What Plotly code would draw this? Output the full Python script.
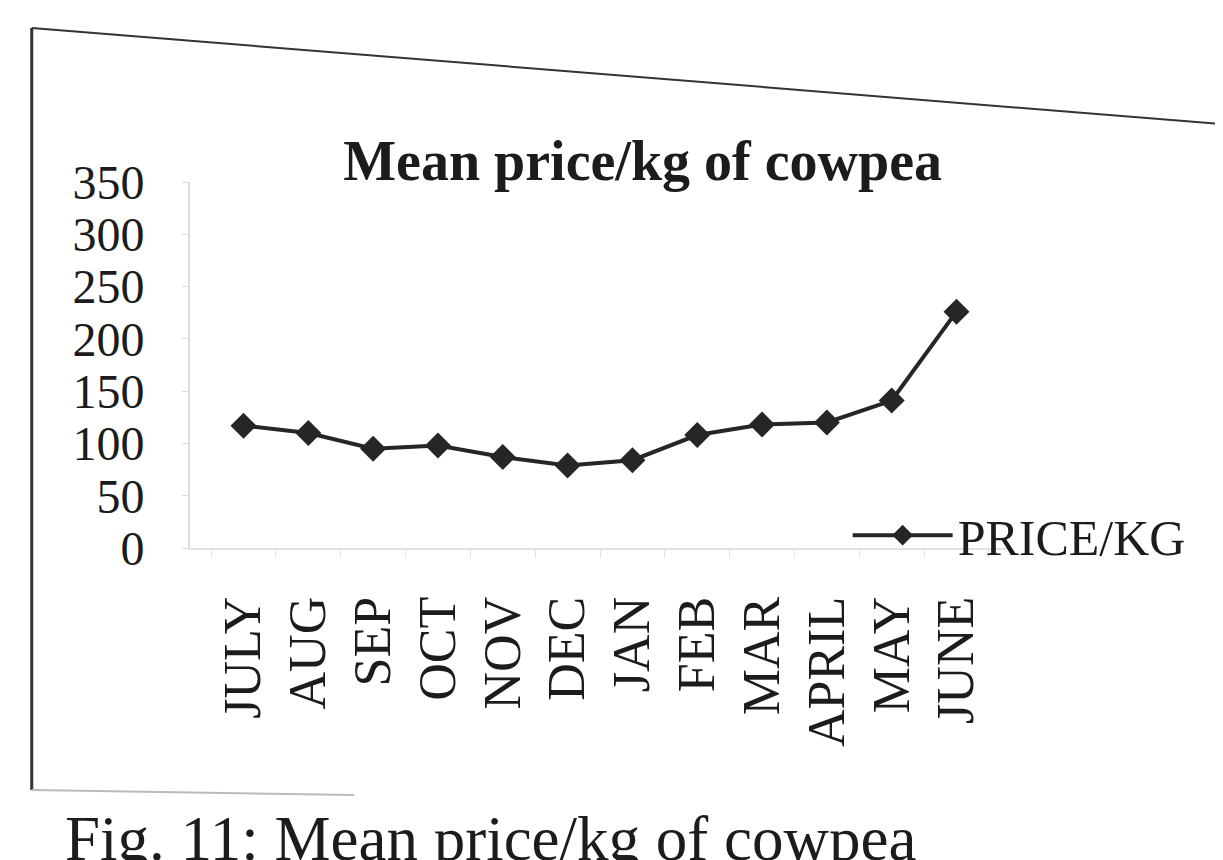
import plotly.graph_objects as go

months = ["JULY", "AUG", "SEP", "OCT", "NOV", "DEC", "JAN", "FEB", "MAR", "APRIL", "MAY", "JUNE"]
price_per_kg = [117, 110, 95, 98, 87, 79, 84, 108, 118, 120, 141, 226]
y_ticks = [0, 50, 100, 150, 200, 250, 300, 350]

SERIF = "Liberation Serif, Times New Roman, serif"
INK = "#1c1c1c"

fig = go.Figure()
fig.add_trace(go.Scatter(
    x=months, y=price_per_kg, name="PRICE/KG", mode="lines+markers",
    line=dict(color="#262626", width=4),
    marker=dict(symbol="diamond", size=20, color="#262626"),
))

# frame of the scanned page
fig.add_shape(type="line", xref="paper", yref="paper", x0=-0.193, y0=1.421, x1=1.27, y1=1.156,
              line=dict(color="#333", width=2))
fig.add_shape(type="line", xref="paper", yref="paper", x0=-0.193, y0=1.421, x1=-0.193, y1=-0.661,
              line=dict(color="#333", width=3))
fig.add_shape(type="line", xref="paper", yref="paper", x0=-0.193, y0=-0.661, x1=0.2, y1=-0.675,
              line=dict(color="#bbb", width=2))

fig.add_annotation(text="Fig. 11: Mean price/kg of cowpea", xref="paper", yref="paper",
                   x=-0.155, y=-0.694, xanchor="left", yanchor="top", showarrow=False,
                   font=dict(family=SERIF, size=63, color=INK))

fig.update_layout(
    width=1223, height=860,
    margin=dict(l=182, r=221, t=174, b=320),
    paper_bgcolor="white", plot_bgcolor="white",
    title=dict(text="<b>Mean price/kg of cowpea</b>", x=0.552, xref="paper", xanchor="center",
               y=1 - 152 / 860, yref="container", yanchor="middle",
               font=dict(family=SERIF, size=56, color=INK)),
    font=dict(family=SERIF, color=INK),
    showlegend=True,
    legend=dict(x=0.802, y=0.035, xanchor="left", yanchor="middle", bgcolor="rgba(0,0,0,0)",
                itemwidth=100,
                font=dict(family=SERIF, size=50, color=INK)),
    xaxis=dict(type="category", categoryorder="array", categoryarray=months,
               tickangle=-90, showgrid=False, showline=True, linecolor="#e2e2e2", linewidth=2,
               ticks="outside", tickson="boundaries", ticklen=8, tickcolor="#e2e2e2",
               ticklabelstandoff=26, tickfont=dict(family=SERIF, size=52, color=INK)),
    yaxis=dict(range=[0, 350], tickvals=y_ticks, showgrid=False, zeroline=False,
               showline=True, linecolor="#dddddd", linewidth=2,
               ticks="outside", ticklen=6, tickcolor="#dddddd",
               ticklabelstandoff=28, tickfont=dict(family=SERIF, size=48, color=INK)),
)

fig.write_html("out.html")
